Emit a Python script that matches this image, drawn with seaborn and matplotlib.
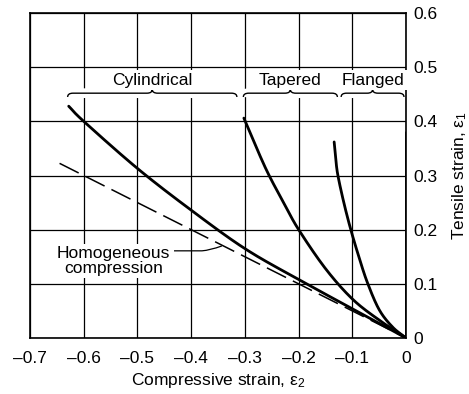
import numpy as np
import pandas as pd
import seaborn as sns
import matplotlib
matplotlib.use("Agg")
import matplotlib.pyplot as plt
from matplotlib.path import Path
from matplotlib.patches import PathPatch

# Strain paths in cup drawing (compressive e2 vs tensile e1)
cyl_e2 = [-0.628, -0.60, -0.50, -0.40, -0.30, -0.20, -0.10, 0.0]
cyl_e1 = [0.428, 0.400, 0.313, 0.236, 0.165, 0.108, 0.054, 0.0]

tap_e2 = [-0.302, -0.278, -0.256, -0.227, -0.20, -0.15, -0.10, -0.05, 0.0]
tap_e1 = [0.406, 0.350, 0.302, 0.248, 0.200, 0.128, 0.072, 0.033, 0.0]

fla_e2 = [-0.134, -0.131, -0.127, -0.116, -0.103, -0.088, -0.072, -0.050, -0.025, 0.0]
fla_e1 = [0.362, 0.330, 0.300, 0.250, 0.200, 0.150, 0.102, 0.052, 0.020, 0.0]

plane_e2 = [0.0, 0.0]
plane_e1 = [0.0, 0.38]

homog_e2 = [-0.645, 0.0]
homog_e1 = [0.3225, 0.0]

x_ticks = [-0.7, -0.6, -0.5, -0.4, -0.3, -0.2, -0.1, 0.0]
x_labels = ["–0.7", "–0.6", "–0.5", "–0.4", "–0.3", "–0.2", "–0.1", "0"]
y_ticks = [0.0, 0.1, 0.2, 0.3, 0.4, 0.5, 0.6]
y_labels = ["0", "0.1", "0.2", "0.3", "0.4", "0.5", "0.6"]

regions = ["Cylindrical", "Tapered", "Flanged"]
region_lo = [-0.630, -0.303, -0.121]
region_hi = [-0.315, -0.128, -0.004]

sns.set_theme(style="white")
plt.rcParams["font.family"] = ["Liberation Sans", "DejaVu Sans"]
plt.rcParams["mathtext.fontset"] = "custom"
plt.rcParams["mathtext.rm"] = "Liberation Sans"
plt.rcParams["mathtext.it"] = "Liberation Sans"

FS = 12.5


def catmull_rom(xs, ys, n=30):
    """Smooth parametric curve through the given points."""
    pts = np.column_stack([xs, ys]).astype(float)
    ext = np.vstack([2 * pts[0] - pts[1], pts, 2 * pts[-1] - pts[-2]])
    out = []
    for i in range(1, len(ext) - 2):
        p0, p1, p2, p3 = ext[i - 1], ext[i], ext[i + 1], ext[i + 2]
        t = np.linspace(0, 1, n, endpoint=False)[:, None]
        seg = 0.5 * ((2 * p1) + (-p0 + p2) * t + (2 * p0 - 5 * p1 + 4 * p2 - p3) * t ** 2
                     + (-p0 + 3 * p1 - 3 * p2 + p3) * t ** 3)
        out.append(seg)
    out.append(pts[-1][None, :])
    out = np.vstack(out)
    return out[:, 0], out[:, 1]


fig = plt.figure(figsize=(4.69, 3.94), dpi=100)
ax = fig.add_axes([0.064, 0.142, 0.802, 0.825])

curves = {
    "Cylindrical": (cyl_e2, cyl_e1),
    "Tapered": (tap_e2, tap_e1),
    "Flanged": (fla_e2, fla_e1),
}
for name, (xs, ys) in curves.items():
    sx, sy = catmull_rom(xs, ys)
    df = pd.DataFrame({"e2": sx, "e1": sy})
    sns.lineplot(data=df, x="e2", y="e1", sort=False, estimator=None,
                 color="black", linewidth=2.0, ax=ax, zorder=4)

sns.lineplot(x=plane_e2, y=plane_e1, sort=False, estimator=None,
             color="black", linewidth=2.0, ax=ax, zorder=4)

sns.lineplot(x=homog_e2, y=homog_e1, sort=False, estimator=None, color="black",
             linewidth=1.1, ax=ax, zorder=4)
ax.lines[-1].set_dashes([14, 5])

ax.set_xlim(-0.7, 0.0)
ax.set_ylim(0.0, 0.6)
ax.set_xticks(x_ticks)
ax.set_xticklabels(x_labels)
ax.set_yticks(y_ticks)
ax.set_yticklabels(y_labels)
ax.yaxis.tick_right()
ax.yaxis.set_label_position("right")
ax.tick_params(axis="x", length=0, labelsize=FS, colors="black", pad=9)
ax.tick_params(axis="y", length=0, labelsize=FS, colors="black", pad=5)
ax.grid(True, color="black", linewidth=0.9)
ax.set_axisbelow(True)
for s in ax.spines.values():
    s.set_color("black")
    s.set_linewidth(1.2)

ax.set_xlabel("Compressive strain, ε$_2$", fontsize=FS, color="black", labelpad=4)
ax.set_ylabel("Tensile strain, ε$_1$", fontsize=FS, color="black", labelpad=9)


def brace(x0, x1, y, d=0.007, r=0.010):
    xm = 0.5 * (x0 + x1)
    verts = [(x0, y - d), (x0, y), (x0 + r, y),
             (xm - r, y), (xm, y), (xm, y + d),
             (xm, y), (xm + r, y),
             (x1 - r, y), (x1, y), (x1, y - d)]
    codes = [Path.MOVETO, Path.CURVE3, Path.CURVE3,
             Path.LINETO, Path.CURVE3, Path.CURVE3,
             Path.CURVE3, Path.CURVE3,
             Path.LINETO, Path.CURVE3, Path.CURVE3]
    return Path(verts, codes)


for name, lo, hi in zip(regions, region_lo, region_hi):
    p = brace(lo, hi, 0.452)
    ax.add_patch(PathPatch(p, facecolor="none", edgecolor="white", linewidth=7, zorder=2))
    ax.add_patch(PathPatch(p, facecolor="none", edgecolor="black", linewidth=1.0, zorder=3))
    ax.text(0.5 * (lo + hi), 0.476, name, ha="center", va="center", fontsize=FS,
            color="black", zorder=3,
            bbox=dict(boxstyle="square,pad=0.15", facecolor="white", edgecolor="none"))

ax.text(-0.545, 0.142, "Homogeneous\ncompression", ha="center", va="center",
        fontsize=FS, color="black", linespacing=1.05, zorder=3,
        bbox=dict(boxstyle="square,pad=0.1", facecolor="white", edgecolor="none"))
leader = Path([(-0.432, 0.161), (-0.38, 0.161), (-0.365, 0.162), (-0.343, 0.170)],
              [Path.MOVETO, Path.LINETO, Path.CURVE3, Path.CURVE3])
ax.add_patch(PathPatch(leader, facecolor="none", edgecolor="black", linewidth=0.9, zorder=4))

fig.savefig("out.png", dpi=100, facecolor="white")
